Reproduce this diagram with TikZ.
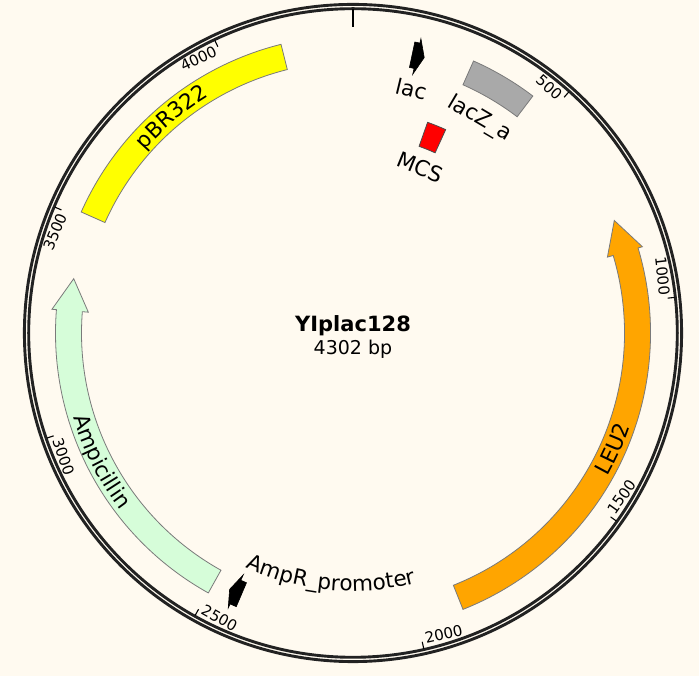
\documentclass[tikz,border=0pt]{standalone}
\usepackage{fontspec}
\setmainfont{DejaVu Sans}
\usetikzlibrary{decorations.text}
\definecolor{bg}{HTML}{FFFAF0}
\definecolor{ampgreen}{HTML}{D6FDD9}
\definecolor{leuorange}{HTML}{FFA500}
\definecolor{origin}{HTML}{FFFF00}
\definecolor{lacgray}{HTML}{A9A9A9}
\definecolor{mcsred}{HTML}{FF0000}
\definecolor{ringgray}{HTML}{222222}
\definecolor{edgegray}{HTML}{7A7A7A}
\newcommand\featfont{\fontsize{21.5}{26}\selectfont}
% box-shaped feature: start angle, end angle (clockwise from top), inner r, outer r, style
\newcommand\boxfeat[5]{%
  \path[#5] ({90-#1}:#3) arc[start angle={90-#1}, end angle={90-#2}, radius=#3]
    -- ({90-#2}:#4) arc[start angle={90-#2}, end angle={90-#1}, radius=#4] -- cycle;}
% arrow-shaped feature: tail angle, head base angle, tip angle, style
\newcommand\arrowfeat[4]{%
  \path[#4] ({90-#1}:271.5pt) arc[start angle={90-#1}, end angle={90-#2}, radius=271.5pt]
    -- ({90-#2}:265.5pt) -- ({90-#3}:284.5pt) -- ({90-#2}:302pt) -- ({90-#2}:297.5pt)
    arc[start angle={90-#2}, end angle={90-#1}, radius=297.5pt] -- cycle;}
\begin{document}
\begin{tikzpicture}[
  feat/.style={draw=edgegray, line width=0.8pt, line join=miter},
  ring/.style={draw=ringgray, line width=2.9pt},
  tickline/.style={draw=black, line width=1.1pt},
  ticklabel/.style={font=\fontsize{15}{18}\selectfont, inner sep=0pt},
  lbl/.style={font=\featfont, inner sep=0pt},
]
\fill[bg] (-353pt,-343pt) rectangle (346pt,333pt);
\useasboundingbox (-353pt,-343pt) rectangle (346pt,333pt);

% backbone ring
\draw[ring] (0,0) circle[radius=328.6pt];
\draw[ring] (0,0) circle[radius=324.3pt];
\draw[draw=black, line width=2.4pt] (0,306pt) -- (0,323.5pt);

% ticks
\foreach \a in {48.158, 6.318, -35.523, -77.364, -119.205, -161.046, -202.887, -244.728}
  \draw[tickline] (\a:316.5pt) -- (\a:323.5pt);
\node[ticklabel, anchor=east, rotate=-41.842] (t500) at (48.758:314pt) {500};
\node[ticklabel, anchor=east, rotate=-83.682] (t1000) at (6.918:314pt) {1000};
\node[ticklabel, anchor=west, rotate=54.477] (t1500) at (-34.923:314pt) {1500};
\node[ticklabel, anchor=west, rotate=12.636] (t2000) at (-76.764:314pt) {2000};
\node[ticklabel, anchor=west, rotate=-29.205] (t2500) at (-118.605:314pt) {2500};
\node[ticklabel, anchor=west, rotate=-71.046] (t3000) at (-160.446:314pt) {3000};
\node[ticklabel, anchor=east, rotate=67.113] (t3500) at (-202.287:314pt) {3500};
\node[ticklabel, anchor=east, rotate=25.272] (t4000) at (-244.128:314pt) {4000};

% features
\boxfeat{294.0}{346.0}{271.5pt}{297.5pt}{feat, fill=origin}
\boxfeat{23.9}{37.2}{271.5pt}{297.5pt}{feat, fill=lacgray}
\boxfeat{19.5}{24.5}{198pt}{223.5pt}{feat, draw=black!70, fill=mcsred}
\arrowfeat{158.3}{73.4}{66.7}{feat, fill=leuorange}
\arrowfeat{209.1}{274.5}{281.0}{feat, fill=ampgreen}
\arrowfeat{12.0}{13.0}{14.5}{fill=black, draw=black, line width=0.6pt}
\arrowfeat{203.1}{204.4}{205.7}{fill=black, draw=black, line width=0.6pt}

% labels inside features (curved)
\path[decorate, decoration={text along path, text={|\featfont|pBR322}, text align=center}]
  (-204:277pt) arc[start angle=-204, end angle=-256, radius=277pt];
\path[decorate, decoration={text along path, text={|\featfont|LEU2}, text align=center}]
  (-64:292.3pt) arc[start angle=-64, end angle=16, radius=292.3pt];
\path[decorate, decoration={text along path, text={|\featfont|Ampicillin}, text align=center}]
  (-193:292.3pt) arc[start angle=-193, end angle=-113, radius=292.3pt];
\path[decorate, decoration={text along path, text={|\featfont|AmpR{\_}promoter}, text align=center}]
  (-135.25:258pt) arc[start angle=-135.25, end angle=-55.25, radius=258pt];

% other labels
\node[lbl, anchor=base, rotate=-13.5] (laclbl) at (76.5:243pt) {lac};
\node[lbl, anchor=base, rotate=-30.6] (laczlbl) at (59.4:243pt) {lacZ\_a};
\node[lbl, anchor=base, rotate=-22.2] (mcslbl) at (67.8:171pt) {MCS};

% centre
\node[anchor=base, inner sep=0pt, font=\fontsize{21}{25}\selectfont\bfseries] (name) at (0,1pt) {YIplac128};
\node[anchor=base, inner sep=0pt, font=\fontsize{19}{23}\selectfont] (size) at (0,-22pt) {4302 bp};
\end{tikzpicture}
\end{document}
